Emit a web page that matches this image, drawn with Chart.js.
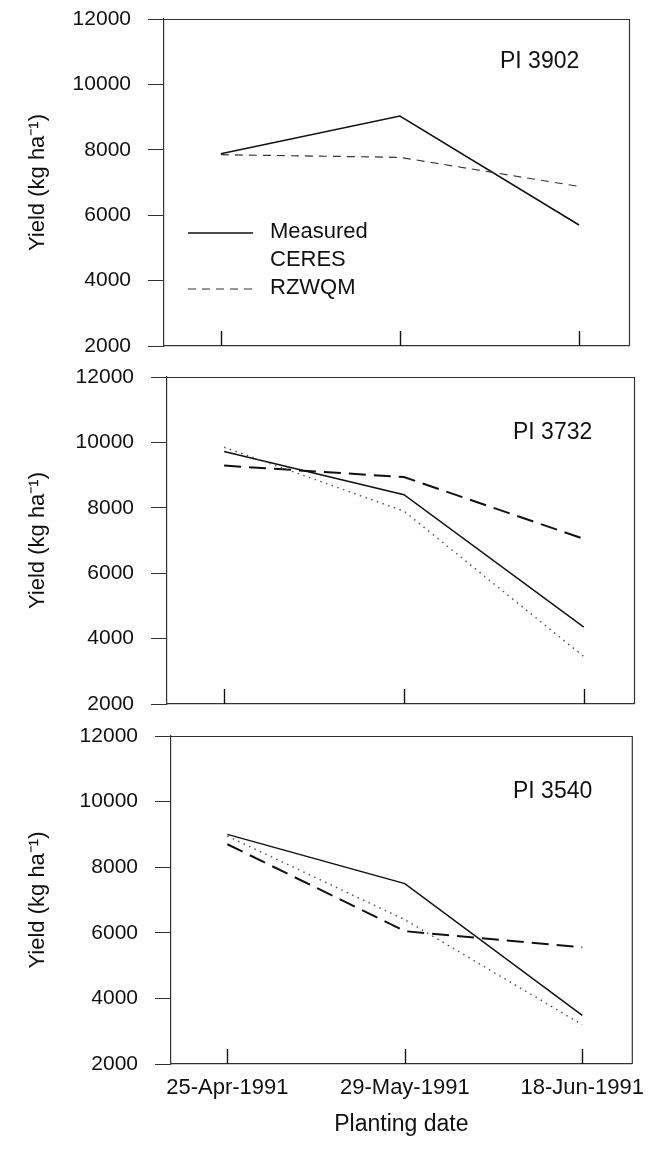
<!DOCTYPE html>
<html>
<head>
<meta charset="utf-8">
<script src="https://cdn.jsdelivr.net/npm/chart.js@4.4.1/dist/chart.umd.min.js"></script>
<style>
html,body{margin:0;padding:0;background:#fff;}
#wrap{position:relative;width:657px;height:1152px;overflow:hidden;}
#wrap canvas{position:absolute;left:0;top:-40px;}
</style>
</head>
<body>
<div id="wrap">
<canvas id="c1" width="657" height="1232"></canvas>
<canvas id="c2" width="657" height="1232"></canvas>
<canvas id="c3" width="657" height="1232"></canvas>
</div>
<script>
// ---- data ----
const categories = ['25-Apr-1991', '29-May-1991', '18-Jun-1991'];
const yTickValues = [2000, 4000, 6000, 8000, 10000, 12000];
const legendNames = ['Measured', 'CERES', 'RZWQM'];

const measured3902 = [7880, 9030, 5700];
const rzwqm3902    = [7850, 7770, 6880];

const measured3732 = [9720, 8400, 4350];
const ceres3732    = [9850, 7900, 3450];
const rzwqm3732    = [9290, 8940, 7050];

const measured3540 = [9000, 7500, 3480];
const ceres3540    = [8950, 6400, 3200];
const rzwqm3540    = [8700, 6050, 5560];

const yTitle = 'Yield (kg ha\u207B\u00B9)';
const xTitle = 'Planting date';

// ---- helpers ----
const FONT = '"Liberation Sans", Arial, Helvetica, sans-serif';
Chart.defaults.font.family = FONT;
Chart.defaults.color = '#111';

const W = 657, CH = 1232, OFF = 40;
const toPts = arr => arr.map((v, i) => ({x: i, y: v}));

function ds(label, values, kind, heavy) {
  const base = {label, data: toPts(values), pointRadius: 0, fill: false, tension: 0,
                borderColor: '#111', borderWidth: 1.5, borderCapStyle: 'butt'};
  if (kind === 'dash') {
    base.borderDash = heavy ? [17, 8] : [8, 6];
    base.borderWidth = heavy ? 2 : 1.2;
    base.borderColor = heavy ? '#111' : '#333';
  } else if (kind === 'dot') {
    base.borderDash = [1.5, 4.5];
    base.borderWidth = 1.5;
    base.borderColor = '#555';
  }
  return base;
}

const panelPlugin = {
  id: 'panelDecor',
  afterDraw(chart, args, o) {
    const {ctx, chartArea: a, scales} = chart;
    ctx.save();
    // top & right frame
    ctx.strokeStyle = '#333';
    ctx.lineWidth = 1.2;
    ctx.beginPath();
    ctx.moveTo(a.left, a.top + 0.5);
    ctx.lineTo(a.right + 0.5, a.top + 0.5);
    ctx.lineTo(a.right + 0.5, a.bottom);
    ctx.stroke();
    // inward x ticks
    ctx.strokeStyle = '#111';
    ctx.lineWidth = 1.4;
    categories.forEach((c, i) => {
      const px = Math.round(scales.x.getPixelForValue(i)) + 0.5;
      ctx.beginPath();
      ctx.moveTo(px, a.bottom);
      ctx.lineTo(px, a.bottom - 15);
      ctx.stroke();
    });
    // panel label
    ctx.fillStyle = '#111';
    ctx.font = '23px ' + FONT;
    ctx.textAlign = 'left';
    ctx.textBaseline = 'middle';
    ctx.fillText(o.label, a.left + o.dx, a.top + o.dy);
    // legend
    if (o.legend) {
      ctx.font = '22px ' + FONT;
      const rows = [213, 241, 269];
      const lx0 = a.left + 24, lx1 = a.left + 89, tx = a.left + 106;
      legendNames.forEach((n, i) => {
        const y = a.top + rows[i];
        ctx.fillText(n, tx, y);
        if (i === 0 || i === 2) {
          ctx.beginPath();
          ctx.strokeStyle = i === 0 ? '#111' : '#333';
          ctx.lineWidth = i === 0 ? 1.5 : 1.2;
          ctx.setLineDash(i === 0 ? [] : [8, 6]);
          ctx.moveTo(lx0, y + 1);
          ctx.lineTo(lx1, y + 1);
          ctx.stroke();
        }
      });
      ctx.setLineDash([]);
    }
    ctx.restore();
  }
};

function makePanel(id, box, datasets, decor, showX) {
  const xH = showX ? 74 : 0;
  new Chart(document.getElementById(id), {
    type: 'line',
    data: {datasets},
    plugins: [panelPlugin],
    options: {
      responsive: false,
      animation: false,
      devicePixelRatio: 1,
      events: [],
      layout: {padding: {left: 0, top: box.top + OFF, right: W - box.right, bottom: CH - (box.bottom + OFF) - xH}},
      plugins: {legend: {display: false}, tooltip: {enabled: false}, panelDecor: decor},
      scales: {
        x: {
          type: 'linear',
          min: -0.3175,
          max: 2.279,
          afterBuildTicks: s => { s.ticks = categories.map((c, i) => ({value: i})); },
          afterFit: s => { s.height = xH; },
          grid: {display: false, drawTicks: false},
          border: {display: true, color: '#333', width: 1.2},
          ticks: {
            display: showX, maxRotation: 0, minRotation: 0, autoSkip: false, padding: 11,
            color: '#111', font: {size: 22},
            callback: v => categories[v] !== undefined ? categories[v] : ''
          },
          title: {display: showX, text: xTitle, color: '#111', font: {size: 23}, padding: {top: 0, bottom: 0}}
        },
        y: {
          type: 'linear',
          min: 2000,
          max: 12000,
          afterBuildTicks: s => { s.ticks = yTickValues.map(v => ({value: v})); },
          afterFit: s => { s.width = box.left; },
          grid: {display: true, drawOnChartArea: false, drawTicks: true, tickLength: 16, color: '#333', lineWidth: 1},
          border: {display: true, color: '#333', width: 1.2},
          ticks: {padding: 17, color: '#111', font: {size: 21}, callback: v => String(v)},
          title: {display: true, text: yTitle, color: '#111', font: {size: 22}, padding: {top: 25, bottom: 0}}
        }
      }
    }
  });
}

makePanel('c1', {left: 164, top: 19, right: 629, bottom: 346}, [
  ds('RZWQM', rzwqm3902, 'dash', false),
  ds('Measured', measured3902, 'solid')
], {label: 'PI 3902', dx: 336, dy: 43, legend: true}, false);

makePanel('c2', {left: 167, top: 377, right: 634, bottom: 704}, [
  ds('CERES', ceres3732, 'dot'),
  ds('RZWQM', rzwqm3732, 'dash', true),
  ds('Measured', measured3732, 'solid')
], {label: 'PI 3732', dx: 346, dy: 56, legend: false}, false);

makePanel('c3', {left: 171, top: 736, right: 639, bottom: 1064}, [
  ds('CERES', ceres3540, 'dot'),
  ds('RZWQM', rzwqm3540, 'dash', true),
  ds('Measured', measured3540, 'solid')
], {label: 'PI 3540', dx: 342, dy: 56, legend: false}, true);
</script>
</body>
</html>
